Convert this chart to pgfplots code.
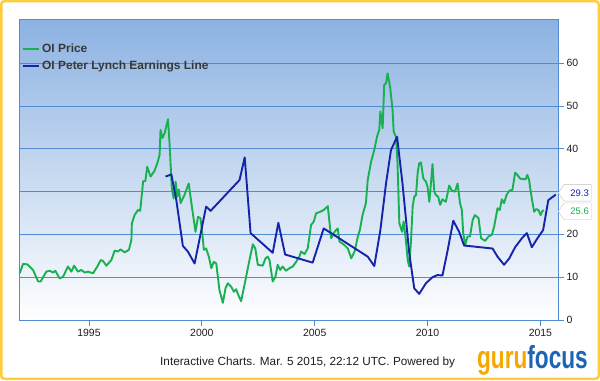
\documentclass[border=0pt]{standalone}
\usepackage{pgfplots}
\pgfplotsset{compat=1.18}
\usepackage{fontspec}
\setmainfont{Liberation Sans}
\usetikzlibrary{shapes.symbols}
\definecolor{oigreen}{RGB}{24,176,80}
\definecolor{oiblue}{RGB}{22,36,170}
\definecolor{gridblue}{RGB}{82,138,212}
\definecolor{bgtop}{RGB}{140,178,226}
\definecolor{frameorange}{RGB}{255,205,60}
\definecolor{guruorange}{RGB}{245,168,0}
\definecolor{gurublue}{RGB}{30,100,180}
\definecolor{txt}{RGB}{30,30,30}
\begin{document}
\begin{tikzpicture}[x=1bp,y=1bp]
\useasboundingbox (0,0) rectangle (600,380);
\fill[white] (0,0) rectangle (600,380);
\draw[frameorange, line width=2.5bp, rounded corners=3bp] (1.25,1.25) rectangle (598.75,378.75);
\begin{axis}[
  at={(19bp,60bp)}, anchor=south west,
  scale only axis, width=539bp, height=300.5bp,
  xmin=1991.9, xmax=2015.78, ymin=0, ymax=70.2,
  axis background/.style={top color=bgtop, bottom color=white},
  axis line style={gridblue, line width=0.8bp},
  ymajorgrids, grid style={gridblue, line width=0.8bp},
  xtick={1995,2000,2005,2010,2015},
  xticklabels={1995,2000,2005,2010,2015},
  ytick={0,10,20,30,40,50,60},
  yticklabels={0,10,20,{},40,50,60},
  xtick pos=left, ytick pos=right, yticklabel pos=right,
  tick align=outside, major tick length=6bp,
  tick style={gridblue, line width=0.8bp},
  ticklabel style={font=\fontsize{10.5}{12}\selectfont, text=txt},
  yticklabel style={xshift=-1bp},
  clip=false,
  legend style={at={(axis description cs:0,1)}, anchor=north west, xshift=3bp, yshift=-22bp,
    draw=none, fill=none, inner sep=0pt, row sep=3.5bp,
    font=\bfseries\fontsize{12}{14}\selectfont, text=black!78},
  legend cell align=left,
  legend image code/.code={\draw[#1, line width=2bp] (0bp,0bp) -- (16bp,0bp);},
]
\addplot[oigreen, line width=1.9bp, line join=round] coordinates {
(1991.93,10.9) (1992.08,13.1) (1992.27,13.0) (1992.52,11.7) (1992.75,9.0) (1992.86,9.0)
(1993.11,11.3) (1993.26,11.5) (1993.41,11.1) (1993.51,11.5) (1993.70,9.7) (1993.85,10.1)
(1994.07,12.5) (1994.22,11.3) (1994.34,12.7) (1994.51,11.3) (1994.66,11.7) (1994.81,11.1)
(1994.96,11.3) (1995.18,10.9) (1995.37,12.5) (1995.52,14.0) (1995.62,13.8) (1995.77,12.7)
(1995.99,14.0) (1996.14,16.2) (1996.28,16.0) (1996.40,16.5) (1996.58,15.8) (1996.77,16.4)
(1996.88,18.7) (1996.90,22.6) (1997.02,24.5) (1997.17,25.7) (1997.27,25.5) (1997.40,32.4)
(1997.50,32.5) (1997.58,35.8) (1997.73,33.5) (1997.91,34.9) (1998.05,37.0) (1998.13,38.6)
(1998.17,44.4) (1998.25,42.5) (1998.35,43.6) (1998.50,46.9) (1998.57,41.3) (1998.67,30.8)
(1998.75,28.4) (1998.84,32.3) (1998.91,28.8) (1998.98,30.5) (1999.06,27.3) (1999.23,29.2)
(1999.42,31.9) (1999.58,25.7) (1999.72,20.6) (1999.83,24.1) (1999.94,23.8) (2000.02,20.3)
(2000.09,16.4) (2000.19,16.7) (2000.31,14.8) (2000.42,12.1) (2000.53,13.6) (2000.64,13.2)
(2000.78,7.0) (2000.93,4.0) (2001.05,7.4) (2001.15,8.6) (2001.30,7.8) (2001.42,6.6)
(2001.52,7.2) (2001.62,5.8) (2001.74,4.4) (2001.89,8.2) (2002.11,14.0) (2002.26,17.7)
(2002.37,16.7) (2002.48,12.9) (2002.70,12.7) (2002.82,14.4) (2002.92,14.8) (2003.00,14.0)
(2003.14,9.0) (2003.26,10.1) (2003.36,12.9) (2003.47,11.7) (2003.58,12.5) (2003.73,11.5)
(2003.88,12.1) (2004.03,12.5) (2004.18,13.6) (2004.32,14.8) (2004.40,16.0) (2004.55,15.4)
(2004.69,16.7) (2004.84,22.2) (2004.96,23.0) (2005.06,24.9) (2005.25,25.3) (2005.40,25.7)
(2005.58,26.6) (2005.73,19.1) (2005.88,20.6) (2006.02,21.4) (2006.10,18.3) (2006.32,17.5)
(2006.47,16.7) (2006.62,14.4) (2006.77,16.0) (2006.91,19.5) (2007.00,21.0) (2007.12,24.5)
(2007.27,27.3) (2007.35,32.7) (2007.50,37.0) (2007.64,39.7) (2007.76,42.8) (2007.86,44.4)
(2007.91,48.7) (2008.01,44.8) (2008.08,54.9) (2008.16,55.3) (2008.23,57.6) (2008.34,54.5)
(2008.45,49.1) (2008.50,44.0) (2008.60,42.8) (2008.67,36.6) (2008.75,22.6) (2008.87,20.6)
(2008.94,23.0) (2009.04,18.7) (2009.12,14.0) (2009.19,12.5) (2009.27,18.7) (2009.34,26.5)
(2009.41,28.8) (2009.49,29.2) (2009.56,34.3) (2009.63,36.6) (2009.71,36.8) (2009.81,33.1)
(2009.93,32.3) (2010.00,31.1) (2010.08,27.6) (2010.15,31.9) (2010.22,36.4) (2010.30,30.0)
(2010.37,29.2) (2010.47,28.8) (2010.56,26.9) (2010.66,28.2) (2010.81,27.6) (2010.96,31.4)
(2011.08,30.2) (2011.22,30.0) (2011.33,31.9) (2011.44,27.3) (2011.52,25.7) (2011.58,20.3)
(2011.67,17.5) (2011.77,19.5) (2011.88,19.5) (2012.00,23.4) (2012.10,24.5) (2012.26,23.8)
(2012.37,19.1) (2012.55,18.5) (2012.70,19.5) (2012.85,19.9) (2012.95,21.8) (2013.10,26.1)
(2013.20,25.7) (2013.29,28.2) (2013.39,27.3) (2013.50,29.2) (2013.62,30.2) (2013.76,30.4)
(2013.88,34.4) (2013.98,33.9) (2014.09,33.1) (2014.18,32.9) (2014.35,32.9) (2014.42,33.9)
(2014.50,32.7) (2014.57,30.0) (2014.72,25.3) (2014.82,25.9) (2014.91,25.7) (2015.01,24.5)
(2015.09,25.5) (2015.16,25.6)
};
\addlegendentry{OI Price}
\addplot[oiblue, line width=1.9bp, line join=round] coordinates {
(1998.39,33.5) (1998.65,34.0) (1998.87,28.0) (1999.16,17.3) (1999.38,16.0) (1999.68,13.2)
(2000.19,26.5) (2000.39,25.5) (2001.67,32.7) (2001.90,38.0) (2002.16,20.3) (2003.14,15.7)
(2003.39,22.7) (2003.69,15.3) (2004.91,13.4) (2005.40,21.4) (2007.35,14.8) (2007.64,12.6)
(2007.91,21.0) (2008.16,31.9) (2008.38,39.7) (2008.65,42.8) (2008.89,31.9) (2009.19,15.6)
(2009.41,7.4) (2009.63,6.1) (2009.93,8.6) (2010.22,10.0) (2010.44,10.5) (2010.66,10.4)
(2010.88,16.0) (2011.14,23.2) (2011.40,20.6) (2011.62,17.4) (2012.88,16.7) (2013.10,14.8)
(2013.39,12.9) (2013.62,14.4) (2013.88,17.0) (2014.18,19.1) (2014.40,20.3) (2014.62,17.0)
(2014.87,19.1) (2015.12,21.0) (2015.35,28.0) (2015.68,29.3)
};
\addlegendentry{OI Peter Lynch Earnings Line}
\node[signal, signal to=west, signal pointer angle=110, draw=black!25, fill=white,
  text=oiblue, font=\fontsize{9.5}{11}\selectfont, minimum height=16.5bp, minimum width=33bp,
  inner sep=1.5bp, anchor=west] at (axis cs:2015.78,29.7) {\hspace*{4bp}29.3};
\node[signal, signal to=west, signal pointer angle=110, draw=black!25, fill=white,
  text=oigreen, font=\fontsize{9.5}{11}\selectfont, minimum height=16.5bp, minimum width=33bp,
  inner sep=1.5bp, anchor=west] at (axis cs:2015.78,25.4) {\hspace*{4bp}25.6};
\end{axis}
\node[anchor=base west, inner sep=0pt, text=txt, font=\fontsize{11.8}{14}\selectfont] at (160,15) {Interactive Charts. Mar. 5 2015, 22:12 UTC. Powered by};
\node[anchor=base west, inner sep=0pt, xscale=0.71] at (477,12) {\fontsize{32}{32}\selectfont\bfseries\textcolor{guruorange}{guru}\textcolor{gurublue}{focus}};
\end{tikzpicture}
\end{document}
